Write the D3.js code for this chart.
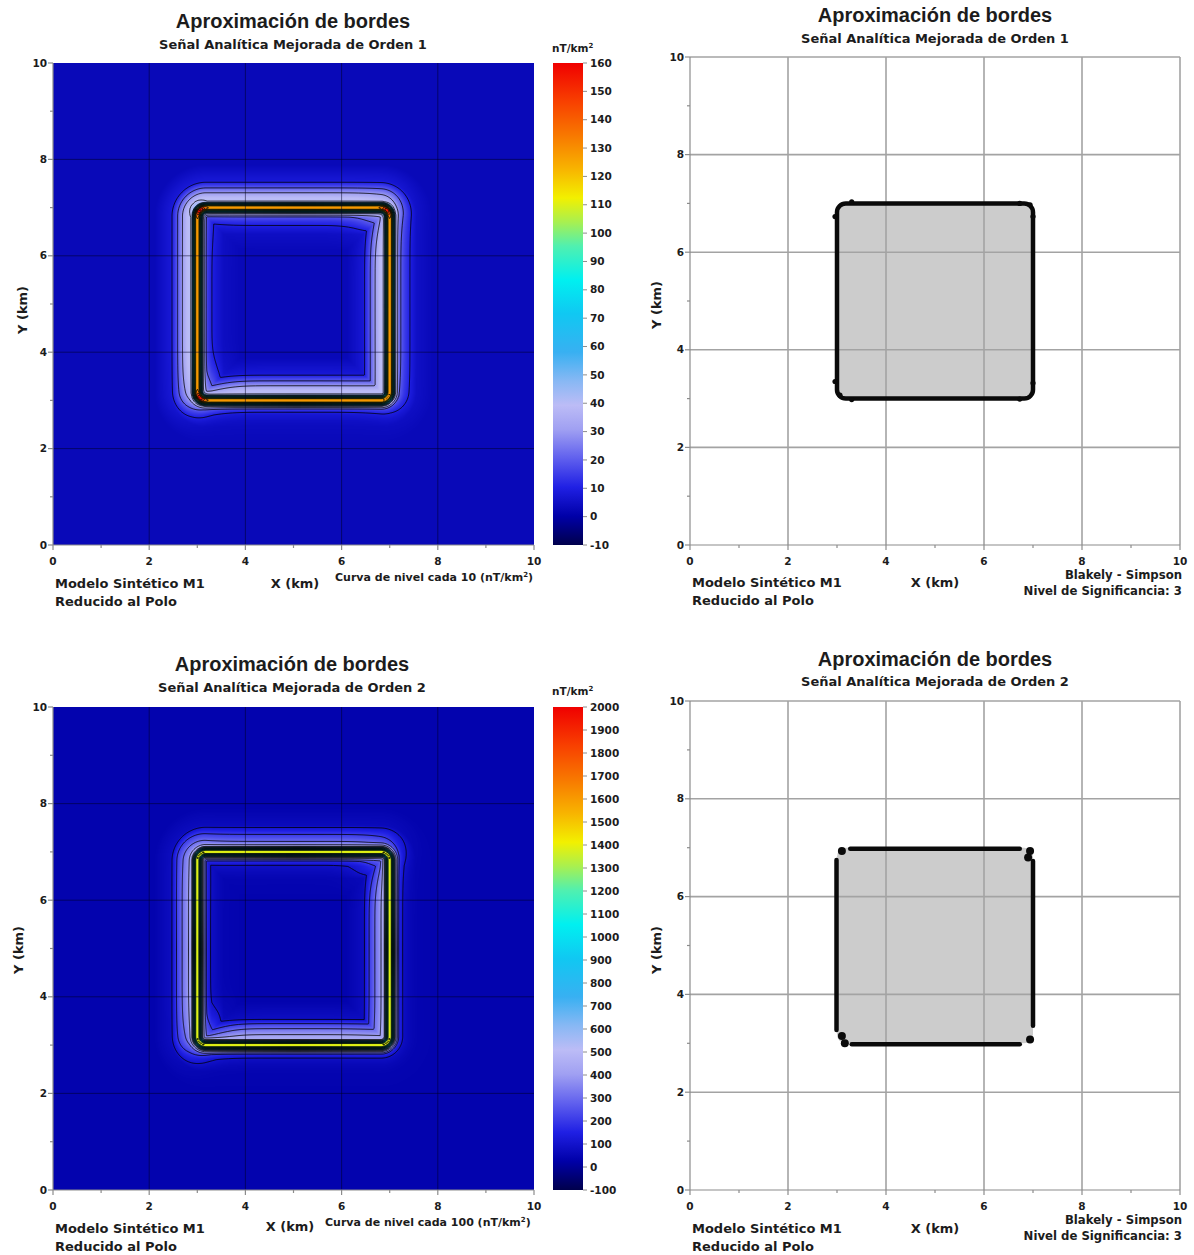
<!DOCTYPE html>
<html>
<head>
<meta charset="utf-8">
<script src="https://cdn.jsdelivr.net/npm/d3@7"></script>
<style>
  body { margin: 0; background: #fff; }
  svg { display: block; font-family: "DejaVu Sans", sans-serif; font-weight: bold; }
  .ttl { font-family: "Liberation Sans", Arial, sans-serif; }
</style>
</head>
<body>
<svg id="fig" width="1194" height="1255"></svg>
<script>
// ---------- text ----------
const chartTitle = "Aproximación de bordes";
const subtitles = ["Señal Analítica Mejorada de Orden 1", "Señal Analítica Mejorada de Orden 2"];
const modelLines = ["Modelo Sintético M1", "Reducido al Polo"];
const methodLines = ["Blakely - Simpson", "Nivel de Significancia: 3"];
const xAxisLabel = "X (km)";
const yAxisLabel = "Y (km)";
const contourNotes = ["Curva de nivel cada 10 (nT/km", "Curva de nivel cada 100 (nT/km"];
const unitLabel = "nT/km";

// ---------- axes ----------
const axisDomain = [0, 10];
const axisTicks = [0, 2, 4, 6, 8, 10];
const minorTicks = [1, 3, 5, 7, 9];
const gridLines = [2, 4, 6, 8];

// ---------- colour bars ----------
const cbTicksOrden1 = [-10, 0, 10, 20, 30, 40, 50, 60, 70, 80, 90, 100, 110, 120, 130, 140, 150, 160];
const cbTicksOrden2 = [-100, 0, 100, 200, 300, 400, 500, 600, 700, 800, 900, 1000, 1100, 1200, 1300, 1400, 1500, 1600, 1700, 1800, 1900, 2000];
const contourStepOrden1 = [10, 20, 30, 40, 50, 60, 70, 80, 90, 100, 110, 120, 130, 140, 150, 160];
const contourStepOrden2 = [100, 200, 300, 400, 500, 600, 700, 800, 900, 1000, 1100, 1200, 1300, 1400, 1500, 1600, 1700, 1800, 1900, 2000];
const colorPos = [0, 0.06, 0.12, 0.18, 0.24, 0.29, 0.34, 0.40, 0.48, 0.55, 0.62, 0.67, 0.72, 0.78, 0.85, 0.92, 1];
const colorStops = ["#00004c", "#0000a8", "#2020e4", "#6060ee", "#a0a0f2", "#bcbcf6", "#88b8f4", "#38b0f2",
                    "#10c8f2", "#00f0f0", "#50f0b0", "#a8f050", "#f2f000", "#f8b400", "#f87800", "#f84000", "#f00000"];

// ---------- prism outline (km) ----------
const bodyX = [3, 7];
const bodyY = [3, 7];
const bodyCornerRadius = 0.18;

// ---------- enhanced analytic signal, sampled across the prism edge ----------
// distance from the edge in km (negative = inside the prism)
const profileDist = [-5, -0.9, -0.55, -0.42, -0.3, -0.2, -0.12, -0.07, -0.03, 0, 0.03, 0.07, 0.12, 0.2, 0.3, 0.42, 0.55, 0.9, 5];
const coreOrden1 = [3, 3, 4, 5, 7, 12, 40, 85, 124, 131, 124, 85, 40, 12, 7, 5, 4, 3, 3];
const haloOrden1 = [0, 0, 4, 14, 24, 28, 0, 0, 0, 0, 0, 0, 0, 28, 24, 14, 4, 0, 0];
const coreOrden2 = [40, 40, 45, 55, 75, 150, 450, 900, 1330, 1420, 1330, 900, 450, 150, 75, 55, 45, 40, 40];
const haloOrden2 = [0, 0, 40, 200, 300, 300, 0, 0, 0, 0, 0, 0, 0, 300, 300, 200, 40, 0, 0];
// halo strength per side: top, right, bottom, left
const outerHaloOrden1 = [1, 0.35, 0, 1];
const innerHaloOrden1 = [0.2, 1, 1, 0.1];
const outerHaloOrden2 = [0.55, 0, 0, 0.8];
const innerHaloOrden2 = [0, 0.8, 0.9, 0];
// local maxima at the corners: x, y, extra value
const cornerPeaksOrden1 = [[3.06, 6.94, 32], [6.94, 6.94, 28], [3.06, 3.06, 30]];
const cornerPeaksOrden2 = [];

// ---------- Blakely - Simpson detected maxima ----------
const maximaOrden1 = [[3.3, 7.03], [2.96, 6.73], [6.73, 7.0], [6.94, 6.97], [7.0, 6.73],
                      [2.96, 3.35], [3.06, 3.07], [3.3, 2.98], [7.0, 3.32], [6.73, 2.99]];
const edgesOrden2 = [[[3.27, 6.98], [6.73, 6.98]], [[7.0, 6.73], [7.0, 3.36]],
                     [[6.73, 2.98], [3.3, 2.98]], [[2.99, 3.27], [2.99, 6.75]]];
const maximaOrden2 = [[3.1, 6.93], [6.94, 6.93], [6.9, 6.8], [3.1, 3.15], [3.16, 3.0], [6.94, 3.08]];

// ---------- layout ----------
const layout = [
  { kind: "map", order: 0, x0: 53, x1: 534, y0: 63, y1: 545, cbX0: 553, cbX1: 583, cx: 293,
    titleY: 28, subY: 49, tickY: 565, modelY: 588, xLab: [295, 588], yLab: [22, 310], noteX: 335, noteY: 581, cbLabY: 52 },
  { kind: "body", order: 0, x0: 690, x1: 1180, y0: 57, y1: 545, cx: 935,
    titleY: 22, subY: 43, tickY: 565, modelY: 587, xLab: [935, 587], yLab: [656, 305], methodY: 579 },
  { kind: "map", order: 1, x0: 53, x1: 534, y0: 707, y1: 1190, cbX0: 553, cbX1: 583, cx: 292,
    titleY: 671, subY: 692, tickY: 1210, modelY: 1233, xLab: [290, 1231], yLab: [18, 950], noteX: 325, noteY: 1226, cbLabY: 695 },
  { kind: "body", order: 1, x0: 690, x1: 1180, y0: 701, y1: 1190, cx: 935,
    titleY: 666, subY: 686, tickY: 1210, modelY: 1233, xLab: [935, 1233], yLab: [656, 950], methodY: 1224 }
];

const fieldSpecs = [
  { core: coreOrden1, halo: haloOrden1, outer: outerHaloOrden1, inner: innerHaloOrden1, peaks: cornerPeaksOrden1,
    cbTicks: cbTicksOrden1, levels: contourStepOrden1 },
  { core: coreOrden2, halo: haloOrden2, outer: outerHaloOrden2, inner: innerHaloOrden2, peaks: cornerPeaksOrden2,
    cbTicks: cbTicksOrden2, levels: contourStepOrden2 }
];

const svg = d3.select("#fig");
const defs = svg.append("defs");
const textColor = "#1c1c1c";

// signed distance to the rounded prism outline
function sdBody(x, y) {
  const cx = (bodyX[0] + bodyX[1]) / 2, cy = (bodyY[0] + bodyY[1]) / 2;
  const hx = (bodyX[1] - bodyX[0]) / 2 - bodyCornerRadius, hy = (bodyY[1] - bodyY[0]) / 2 - bodyCornerRadius;
  const qx = Math.abs(x - cx) - hx, qy = Math.abs(y - cy) - hy;
  const out = Math.hypot(Math.max(qx, 0), Math.max(qy, 0));
  const ins = Math.min(Math.max(qx, qy), 0);
  return out + ins - bodyCornerRadius;
}

function colorScale(dom) {
  return d3.scaleLinear()
    .domain(colorPos.map(p => dom[0] + p * (dom[1] - dom[0])))
    .range(colorStops)
    .interpolate(d3.interpolateRgb)
    .clamp(true);
}

function fieldGrid(spec, M) {
  const coreS = d3.scaleLinear().domain(profileDist).range(spec.core).clamp(true);
  const haloS = d3.scaleLinear().domain(profileDist).range(spec.halo).clamp(true);
  const cx = (bodyX[0] + bodyX[1]) / 2, cy = (bodyY[0] + bodyY[1]) / 2;
  const vals = new Float64Array(M * M);
  const step = (axisDomain[1] - axisDomain[0]) / M;
  const sig = t => 1 / (1 + Math.exp(-t));
  for (let j = 0; j < M; j++) {
    const y = axisDomain[1] - (j + 0.5) * step;
    for (let i = 0; i < M; i++) {
      const x = axisDomain[0] + (i + 0.5) * step;
      const d = sdBody(x, y);
      const dx = x - cx, dy = y - cy;
      const ax = Math.pow(Math.abs(dx), 6), ay = Math.pow(Math.abs(dy), 6);
      const h = ax / (ax + ay + 1e-12);
      const w = d >= 0 ? spec.outer : spec.inner;
      const tx = sig(dx / 0.5), ty = sig(dy / 0.5);
      const wx = w[3] * (1 - tx) + w[1] * tx;
      const wy = w[2] * (1 - ty) + w[0] * ty;
      let v = coreS(d) + haloS(d) * (h * wx + (1 - h) * wy);
      for (const [px, py, a] of spec.peaks) {
        const r2 = (x - px) * (x - px) + (y - py) * (y - py);
        v += a * Math.exp(-r2 / (2 * 0.07 * 0.07));
      }
      vals[j * M + i] = v;
    }
  }
  return vals;
}

function drawTitles(g, L) {
  g.append("text").attr("class", "ttl").attr("x", L.cx).attr("y", L.titleY).attr("text-anchor", "middle")
    .attr("font-size", 20).attr("fill", textColor).text(chartTitle);
  g.append("text").attr("x", L.cx).attr("y", L.subY).attr("text-anchor", "middle")
    .attr("font-size", 13).attr("fill", textColor).text(subtitles[L.order]);
}

function drawAxes(g, L, xs, ys, axisColor) {
  const ax = g.append("g").attr("stroke", axisColor).attr("stroke-width", 1.2);
  ax.append("line").attr("x1", L.x0).attr("x2", L.x1).attr("y1", L.y1).attr("y2", L.y1);
  ax.append("line").attr("x1", L.x0).attr("x2", L.x0).attr("y1", L.y0).attr("y2", L.y1);
  ax.selectAll(".tx").data(axisTicks).join("line").attr("class", "tx")
    .attr("x1", d => xs(d)).attr("x2", d => xs(d)).attr("y1", L.y1).attr("y2", L.y1 + 5);
  ax.selectAll(".mx").data(minorTicks).join("line").attr("class", "mx")
    .attr("x1", d => xs(d)).attr("x2", d => xs(d)).attr("y1", L.y1).attr("y2", L.y1 + 3);
  ax.selectAll(".ty").data(axisTicks).join("line").attr("class", "ty")
    .attr("y1", d => ys(d)).attr("y2", d => ys(d)).attr("x1", L.x0 - 5).attr("x2", L.x0);
  ax.selectAll(".my").data(minorTicks).join("line").attr("class", "my")
    .attr("y1", d => ys(d)).attr("y2", d => ys(d)).attr("x1", L.x0 - 3).attr("x2", L.x0);

  g.selectAll(".xl").data(axisTicks).join("text").attr("class", "xl")
    .attr("x", d => xs(d)).attr("y", L.tickY).attr("text-anchor", "middle")
    .attr("font-size", 10.5).attr("fill", textColor).text(d => d);
  g.selectAll(".yl").data(axisTicks).join("text").attr("class", "yl")
    .attr("x", L.x0 - 6).attr("y", d => ys(d)).attr("dy", "0.35em").attr("text-anchor", "end")
    .attr("font-size", 10.5).attr("fill", textColor).text(d => d);

  g.append("text").attr("x", L.xLab[0]).attr("y", L.xLab[1]).attr("text-anchor", "middle")
    .attr("font-size", 13).attr("fill", textColor).text(xAxisLabel);
  g.append("text").attr("transform", `translate(${L.yLab[0]},${L.yLab[1]}) rotate(-90)`)
    .attr("text-anchor", "middle").attr("dy", "0.35em")
    .attr("font-size", 13).attr("fill", textColor).text(yAxisLabel);
  modelLines.forEach((t, k) => {
    g.append("text").attr("x", L.x0 + 2).attr("y", L.modelY + k * 18)
      .attr("font-size", 13).attr("fill", textColor).text(t);
  });
}

function drawMap(L, idx) {
  const spec = fieldSpecs[L.order];
  const g = svg.append("g");
  const xs = d3.scaleLinear().domain(axisDomain).range([L.x0, L.x1]);
  const ys = d3.scaleLinear().domain(axisDomain).range([L.y1, L.y0]);
  const cbDom = d3.extent(spec.cbTicks);
  const cs = colorScale(cbDom);

  // raster of the field
  const M = 480;
  const vals = fieldGrid(spec, M);
  const lutN = 1024, lut = [];
  for (let k = 0; k < lutN; k++) lut.push(d3.rgb(cs(cbDom[0] + (cbDom[1] - cbDom[0]) * k / (lutN - 1))));
  const canvas = document.createElement("canvas");
  canvas.width = M; canvas.height = M;
  const ctx = canvas.getContext("2d");
  const img = ctx.createImageData(M, M);
  for (let n = 0; n < M * M; n++) {
    let k = Math.round((vals[n] - cbDom[0]) / (cbDom[1] - cbDom[0]) * (lutN - 1));
    k = Math.max(0, Math.min(lutN - 1, k));
    const c = lut[k];
    img.data[4 * n] = c.r; img.data[4 * n + 1] = c.g; img.data[4 * n + 2] = c.b; img.data[4 * n + 3] = 255;
  }
  ctx.putImageData(img, 0, 0);

  const clipId = "clip" + idx;
  defs.append("clipPath").attr("id", clipId).append("rect")
    .attr("x", L.x0).attr("y", L.y0).attr("width", L.x1 - L.x0).attr("height", L.y1 - L.y0);

  g.append("image").attr("href", canvas.toDataURL())
    .attr("x", L.x0).attr("y", L.y0).attr("width", L.x1 - L.x0).attr("height", L.y1 - L.y0)
    .attr("preserveAspectRatio", "none");

  // contour lines
  const contours = d3.contours().size([M, M]).thresholds(spec.levels)(Array.from(vals));
  const step = (axisDomain[1] - axisDomain[0]) / M;
  const proj = d3.geoTransform({
    point(px, py) { this.stream.point(xs(axisDomain[0] + px * step), ys(axisDomain[1] - py * step)); }
  });
  g.append("g").attr("clip-path", `url(#${clipId})`)
    .selectAll("path").data(contours).join("path")
    .attr("d", d3.geoPath(proj)).attr("fill", "none").attr("stroke", "#000").attr("stroke-width", 0.8);

  // grid
  const gg = g.append("g").attr("stroke", "#000020").attr("stroke-opacity", 0.5).attr("stroke-width", 1);
  gg.selectAll(".gv").data(gridLines).join("line").attr("class", "gv")
    .attr("x1", d => xs(d)).attr("x2", d => xs(d)).attr("y1", L.y0).attr("y2", L.y1);
  gg.selectAll(".gh").data(gridLines).join("line").attr("class", "gh")
    .attr("y1", d => ys(d)).attr("y2", d => ys(d)).attr("x1", L.x0).attr("x2", L.x1);

  drawAxes(g, L, xs, ys, "#8c8c8c");
  drawTitles(g, L);

  // colour bar
  const gradId = "grad" + idx;
  const grad = defs.append("linearGradient").attr("id", gradId)
    .attr("x1", 0).attr("x2", 0).attr("y1", 1).attr("y2", 0);
  colorPos.forEach((p, k) => grad.append("stop").attr("offset", p).attr("stop-color", colorStops[k]));
  const cbs = d3.scaleLinear().domain(cbDom).range([L.y1, L.y0]);
  g.append("rect").attr("x", L.cbX0).attr("y", L.y0).attr("width", L.cbX1 - L.cbX0)
    .attr("height", L.y1 - L.y0).attr("fill", `url(#${gradId})`);
  g.append("g").attr("stroke", "#8c8c8c").attr("stroke-width", 1)
    .selectAll("line").data(spec.cbTicks).join("line")
    .attr("x1", L.cbX1).attr("x2", L.cbX1 + 4).attr("y1", d => cbs(d)).attr("y2", d => cbs(d));
  g.selectAll(".cbl").data(spec.cbTicks).join("text").attr("class", "cbl")
    .attr("x", L.cbX1 + 7).attr("y", d => cbs(d)).attr("dy", "0.35em")
    .attr("font-size", 10.5).attr("fill", textColor).text(d => d);
  const ul = g.append("text").attr("x", L.cbX0 - 1).attr("y", L.cbLabY)
    .attr("font-size", 10.5).attr("fill", textColor).text(unitLabel);
  ul.append("tspan").attr("dy", -4).attr("font-size", 7).text("2");

  // contour interval note
  const nt = g.append("text").attr("x", L.noteX).attr("y", L.noteY)
    .attr("font-size", 11).attr("fill", textColor).text(contourNotes[L.order]);
  nt.append("tspan").attr("dy", -4).attr("font-size", 7).text("2");
  nt.append("tspan").attr("dy", 4).text(")");
}

function drawBody(L, idx) {
  const g = svg.append("g");
  const xs = d3.scaleLinear().domain(axisDomain).range([L.x0, L.x1]);
  const ys = d3.scaleLinear().domain(axisDomain).range([L.y1, L.y0]);
  const rx = xs(bodyCornerRadius) - xs(0);

  g.append("rect").attr("x", xs(bodyX[0])).attr("y", ys(bodyY[1]))
    .attr("width", xs(bodyX[1]) - xs(bodyX[0])).attr("height", ys(bodyY[0]) - ys(bodyY[1]))
    .attr("rx", rx).attr("fill", "#cccccc");

  const gg = g.append("g").attr("stroke", "#a3a3a3").attr("stroke-width", 1.6);
  gg.selectAll(".gv").data(gridLines.concat([axisDomain[1]])).join("line").attr("class", "gv")
    .attr("x1", d => xs(d)).attr("x2", d => xs(d)).attr("y1", L.y0).attr("y2", L.y1);
  gg.selectAll(".gh").data(gridLines.concat([axisDomain[1]])).join("line").attr("class", "gh")
    .attr("y1", d => ys(d)).attr("y2", d => ys(d)).attr("x1", L.x0).attr("x2", L.x1);

  if (L.order === 0) {
    g.append("rect").attr("x", xs(bodyX[0])).attr("y", ys(bodyY[1]))
      .attr("width", xs(bodyX[1]) - xs(bodyX[0])).attr("height", ys(bodyY[0]) - ys(bodyY[1]))
      .attr("rx", rx).attr("fill", "none").attr("stroke", "#0a0a0a").attr("stroke-width", 4.5);
    g.selectAll(".mx").data(maximaOrden1).join("circle").attr("class", "mx")
      .attr("cx", d => xs(d[0])).attr("cy", d => ys(d[1])).attr("r", 2.6).attr("fill", "#0a0a0a");
  } else {
    const line = d3.line().x(d => xs(d[0])).y(d => ys(d[1]));
    g.selectAll(".ed").data(edgesOrden2).join("path").attr("class", "ed")
      .attr("d", line).attr("fill", "none").attr("stroke", "#0a0a0a")
      .attr("stroke-width", 4.5).attr("stroke-linecap", "round");
    g.selectAll(".mx").data(maximaOrden2).join("circle").attr("class", "mx")
      .attr("cx", d => xs(d[0])).attr("cy", d => ys(d[1])).attr("r", 4).attr("fill", "#0a0a0a");
  }

  drawAxes(g, L, xs, ys, "#8c8c8c");
  drawTitles(g, L);
  methodLines.forEach((t, k) => {
    g.append("text").attr("x", L.x1 + 2).attr("y", L.methodY + k * 16).attr("text-anchor", "end")
      .attr("font-size", 11.7).attr("fill", textColor).text(t);
  });
}

layout.forEach((L, i) => (L.kind === "map" ? drawMap(L, i) : drawBody(L, i)));
</script>
</body>
</html>
